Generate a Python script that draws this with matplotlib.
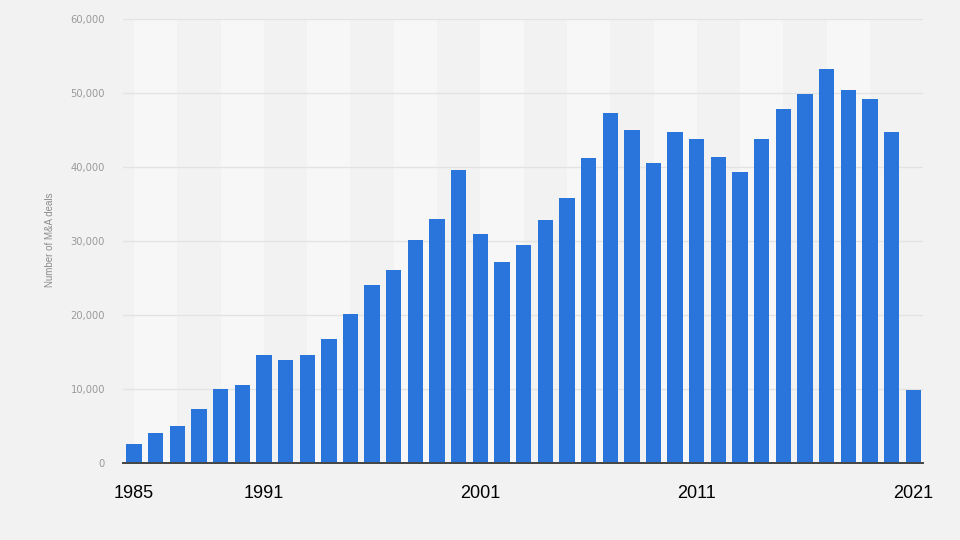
import matplotlib
matplotlib.use("Agg")
import matplotlib.pyplot as plt
from matplotlib.ticker import FuncFormatter

years = list(range(1985, 2022))
deals = [2570, 4050, 5040, 7300, 10000, 10600, 14600, 13950, 14600, 16700,
         20070, 24120, 26050, 30100, 33000, 39660, 30920, 27100, 29490, 32860,
         35840, 41190, 47320, 44970, 40570, 44700, 43810, 41380, 39390, 43720,
         47860, 49890, 53220, 50470, 49160, 44760, 9930]
xtick_years = [1985, 1991, 2001, 2011, 2021]
ytick_vals = [0, 10000, 20000, 30000, 40000, 50000, 60000]

bg = "#f2f2f2"
band = "#f7f7f7"
bar_color = "#2a75dc"

fig = plt.figure(figsize=(9.6, 5.4), dpi=100, facecolor=bg)
ax = fig.add_axes([123/960, 1 - 463/540, (923 - 123)/960, (463 - 19)/540])
ax.set_facecolor(bg)

# alternating background bands (2 years wide)
for start in range(1985, 2021, 4):
    ax.axvspan(start, start + 2, color=band, zorder=0, lw=0)

ax.bar(years, deals, width=0.71, color=bar_color, zorder=3)

ax.set_xlim(1984.49, 2021.45)
ax.set_ylim(0, 60000)
ax.set_yticks(ytick_vals)
ax.yaxis.set_major_formatter(FuncFormatter(lambda v, p: f"{int(v):,}"))
ax.grid(axis="y", color="#e3e3e3", lw=1, zorder=1)
ax.set_axisbelow(True)

ax.set_xticks(xtick_years)
ax.set_xticklabels([str(y) for y in xtick_years])

for s in ["top", "right", "left"]:
    ax.spines[s].set_visible(False)
ax.spines["bottom"].set_color("#444444")
ax.spines["bottom"].set_linewidth(1.4)
ax.spines["bottom"].set_zorder(4)

ax.tick_params(axis="x", length=0, pad=16, labelsize=13, labelcolor="black")
for lbl in ax.get_xticklabels():
    lbl.set_family(["Liberation Sans", "DejaVu Sans"])
ax.tick_params(axis="y", length=0, pad=13, labelsize=7.2, labelcolor="#9a9a9a")
for lbl in ax.get_yticklabels():
    lbl.set_family(["DejaVu Sans"])

fig.text(50/960, 1 - 240/540, "Number of M&A deals", rotation=90,
         ha="center", va="center", fontsize=7, color="#8c8c8c",
         family=["Liberation Sans", "DejaVu Sans"])

fig.savefig("out.png", dpi=100, facecolor=bg)
